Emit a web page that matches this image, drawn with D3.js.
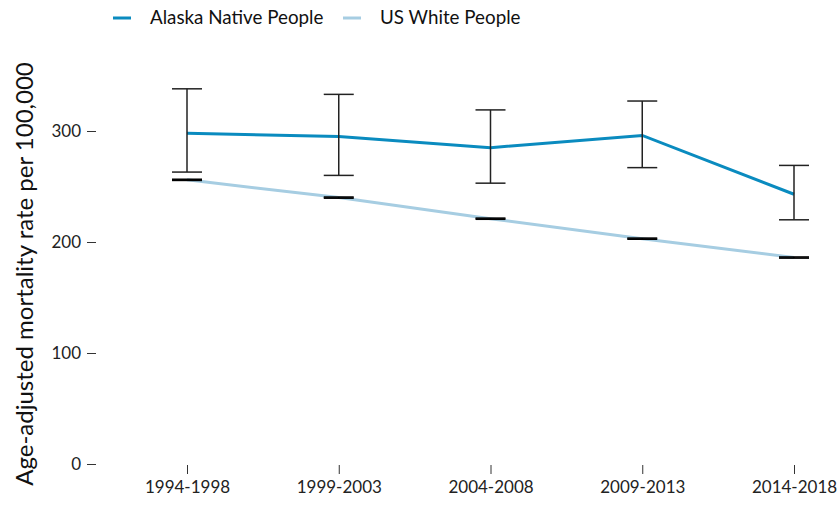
<!DOCTYPE html>
<html><head><meta charset="utf-8">
<script src="https://cdn.jsdelivr.net/npm/d3@7"></script>
<style>body{margin:0;background:#fff;} svg{display:block;font-family:Lato, "Open Sans", sans-serif;}</style>
</head><body>
<svg id="c" width="839" height="509"></svg>
<script>
const periods = ["1994-1998","1999-2003","2004-2008","2009-2013","2014-2018"];
const alaskaNative = [298, 295, 285, 296, 243];
const alaskaLower = [263, 260, 253, 267, 220];
const alaskaUpper = [338, 333, 319, 327, 269];
const usWhite = [256, 240, 221, 203, 186];
const usWhiteLower = [255.5, 239.5, 220.5, 202.5, 185.5];
const usWhiteUpper = [256.5, 240.5, 221.5, 203.5, 186.5];
const yTicks = [0, 100, 200, 300];
const seriesNames = ["Alaska Native People", "US White People"];
const colors = ["#0a8bbf", "#a6cde2"];

const svg = d3.select("#c");
const x = d3.scalePoint().domain(periods).range([187, 794]);
const y = d3.scaleLinear().domain([0, 300]).range([464, 131]);

// y axis
const ya = svg.append("g").attr("transform","translate(96,0)")
  .call(d3.axisLeft(y).tickValues(yTicks).tickSize(9).tickPadding(6));
ya.select(".domain").remove();
ya.selectAll("line").attr("stroke","#333");
ya.selectAll("text").attr("font-size",17).attr("fill","#222").attr("font-family","Lato, sans-serif");

// x axis
const xa = svg.append("g").attr("transform","translate(0,465)")
  .call(d3.axisBottom(x).tickSize(9).tickPadding(7));
xa.select(".domain").remove();
xa.selectAll("line").attr("stroke","#333").attr("y1",0).attr("y2",9);
xa.selectAll("text").attr("font-size",17).attr("fill","#222").attr("font-family","Lato, sans-serif");

// y title
svg.append("text").attr("transform","translate(33,274) rotate(-90)")
  .attr("text-anchor","middle").attr("font-size",24).attr("fill","#111")
  .text("Age-adjusted mortality rate per 100,000");

const line = d3.line().x((d,i)=>x(periods[i])).y(d=>y(d));
svg.append("path").datum(usWhite).attr("d",line).attr("fill","none")
  .attr("stroke",colors[1]).attr("stroke-width",3);
svg.append("path").datum(alaskaNative).attr("d",line).attr("fill","none")
  .attr("stroke",colors[0]).attr("stroke-width",3);

function errorBars(lo, hi, w, col) {
  const g = svg.append("g").attr("stroke",col).attr("stroke-width",w);
  periods.forEach((p,i)=>{
    const cx = x(p);
    g.append("line").attr("x1",cx).attr("x2",cx).attr("y1",y(lo[i])).attr("y2",y(hi[i]));
    g.append("line").attr("x1",cx-15).attr("x2",cx+15).attr("y1",y(lo[i])).attr("y2",y(lo[i]));
    g.append("line").attr("x1",cx-15).attr("x2",cx+15).attr("y1",y(hi[i])).attr("y2",y(hi[i]));
  });
}
errorBars(alaskaLower, alaskaUpper, 1.5, "#222");
errorBars(usWhiteLower, usWhiteUpper, 1.6, "#000");

// legend
const leg = svg.append("g");
const legX = [113, 343];
seriesNames.forEach((n,i)=>{
  leg.append("line").attr("x1",legX[i]).attr("x2",legX[i]+18).attr("y1",18).attr("y2",18)
    .attr("stroke",colors[i]).attr("stroke-width",3);
  leg.append("text").attr("x",legX[i]+37).attr("y",24).attr("font-size",18.8).attr("fill","#111").text(n);
});
</script>
</body></html>
